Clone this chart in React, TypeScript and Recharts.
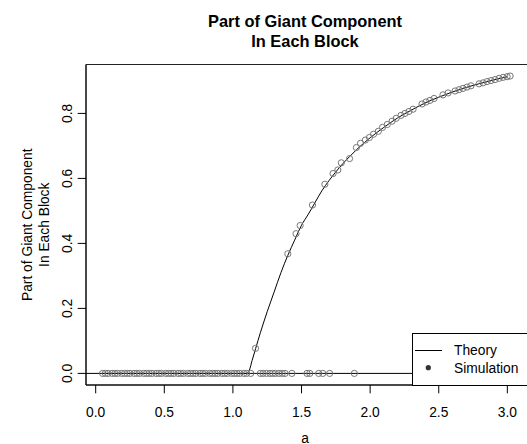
import React from 'react';
import {
  ComposedChart,
  Line,
  Scatter,
  XAxis,
  YAxis,
  ReferenceArea,
  ReferenceLine,
  Legend,
  Label,
} from 'recharts';

// ---------- data ----------
const theoryA = [0.05, 1.1, 1.12, 1.14, 1.166, 1.2, 1.25, 1.3, 1.35, 1.4, 1.45, 1.5, 1.55, 1.6, 1.65, 1.7, 1.75, 1.8, 1.85, 1.9, 1.95, 2.0, 2.1, 2.2, 2.3, 2.4, 2.5, 2.6, 2.7, 2.8, 2.9, 3.0];
const theoryY = [0, 0, 0.01, 0.04, 0.077, 0.125, 0.19, 0.25, 0.31, 0.363, 0.41, 0.456, 0.49, 0.527, 0.563, 0.593, 0.62, 0.645, 0.667, 0.688, 0.707, 0.725, 0.757, 0.786, 0.81, 0.832, 0.85, 0.866, 0.88, 0.892, 0.903, 0.913];

// simulation runs where no giant component appeared (value 0)
const simZeroA = [0.05, 0.07, 0.09, 0.12, 0.14, 0.16, 0.19, 0.21, 0.23, 0.25, 0.28, 0.3, 0.32, 0.35, 0.37, 0.39, 0.41, 0.44, 0.46, 0.48, 0.51, 0.53, 0.55, 0.57, 0.6, 0.62, 0.64, 0.67, 0.69, 0.71, 0.73, 0.76, 0.78, 0.8, 0.83, 0.85, 0.87, 0.89, 0.92, 0.94, 0.96, 0.99, 1.01, 1.03, 1.05, 1.08, 1.1, 1.13, 1.2, 1.22, 1.245, 1.27, 1.29, 1.31, 1.335, 1.36, 1.38, 1.43, 1.54, 1.56, 1.625, 1.655, 1.705, 1.885];

// simulation runs on the giant-component branch
const simCurveA = [1.165, 1.4, 1.46, 1.49, 1.58, 1.67, 1.73, 1.765, 1.79, 1.85, 1.9, 1.93, 1.965, 1.995, 2.025, 2.06, 2.09, 2.125, 2.16, 2.19, 2.225, 2.254, 2.283, 2.313, 2.378, 2.407, 2.436, 2.466, 2.531, 2.568, 2.619, 2.648, 2.677, 2.706, 2.735, 2.794, 2.823, 2.852, 2.881, 2.91, 2.94, 2.969, 2.998, 3.02];
const simCurveY = [0.077, 0.368, 0.43, 0.455, 0.518, 0.582, 0.615, 0.626, 0.648, 0.661, 0.695, 0.708, 0.718, 0.726, 0.736, 0.745, 0.757, 0.766, 0.776, 0.785, 0.794, 0.8, 0.806, 0.813, 0.829, 0.835, 0.84, 0.846, 0.857, 0.863, 0.869, 0.873, 0.877, 0.881, 0.885, 0.891, 0.894, 0.898, 0.901, 0.904, 0.908, 0.911, 0.913, 0.915];

const xTicks = [0, 0.5, 1.0, 1.5, 2.0, 2.5, 3.0];
const yTicks = [0, 0.2, 0.4, 0.6, 0.8];
const titleLines = ['Part of Giant Component', 'In Each Block'];
const yLabelLines = ['Part of Giant Component', 'In Each Block'];
const xLabel = 'a';
const seriesNames = ['Theory', 'Simulation'];

const theory = theoryA.map((a, i) => ({ a, y: theoryY[i] }));
const simulation = [
  ...simZeroA.map((a) => ({ a, y: 0 })),
  ...simCurveA.map((a, i) => ({ a, y: simCurveY[i] })),
];

// ---------- layout ----------
const FONT = '"Liberation Sans", Arial, Helvetica, sans-serif';
const FS = 13.8;
const X_DOMAIN: [number, number] = [-0.0707, 3.238];
const Y_DOMAIN: [number, number] = [-0.0357, 0.9505];

const XTick = (p: any) => (
  <text x={p.x} y={p.y} dy={9.9} textAnchor="middle" fontSize={FS} fontFamily={FONT} fill="#000">
    {Number(p.payload.value).toFixed(1)}
  </text>
);

const YTick = (p: any) => (
  <text
    x={p.x}
    y={p.y}
    textAnchor="middle"
    fontSize={FS}
    fontFamily={FONT}
    fill="#000"
    transform={`rotate(-90, ${p.x}, ${p.y})`}
  >
    {Number(p.payload.value).toFixed(1)}
  </text>
);

const Circle = (p: any) => (
  <circle cx={p.cx} cy={p.cy} r={3.1} fill="none" stroke="#777" strokeWidth={1} />
);

const renderLegend = () => (
  <svg width={130} height={53} style={{ display: 'block' }}>
    <rect x={0.5} y={0.5} width={140} height={52} fill="#fff" stroke="#000" strokeWidth={1} />
    <line x1={3} x2={30} y1={17.5} y2={17.5} stroke="#000" strokeWidth={1} />
    <text x={42} y={22} fontSize={FS} fontFamily={FONT} fill="#000">{seriesNames[0]}</text>
    <circle cx={16.3} cy={34.7} r={2.6} fill="#333" />
    <text x={42} y={40.2} fontSize={FS} fontFamily={FONT} fill="#000">{seriesNames[1]}</text>
  </svg>
);

export default function App() {
  return (
    <div style={{ position: 'absolute', left: 0, top: 0, width: 527, height: 444, overflow: 'hidden', background: '#fff' }}>
      <ComposedChart
        width={540}
        height={444}
        margin={{ top: 64.5, right: 0, bottom: 0, left: 0 }}
        style={{ fontFamily: FONT }}
      >
        <XAxis
          dataKey="a"
          type="number"
          domain={X_DOMAIN}
          allowDataOverflow
          ticks={xTicks}
          interval={0}
          height={59}
          tickSize={8.3}
          tickMargin={13.3}
          tick={XTick}
          axisLine={{ stroke: '#000' }}
          tickLine={{ stroke: '#000' }}
        >
          <Label
            content={() => (
              <g>
                <text x={305} y={442.5} textAnchor="middle" fontSize={FS} fontFamily={FONT} fill="#000">{xLabel}</text>
                <text x={305} y={26.5} textAnchor="middle" fontSize={16.4} fontWeight="bold" fontFamily={FONT} fill="#000">{titleLines[0]}</text>
                <text x={305} y={47} textAnchor="middle" fontSize={16.4} fontWeight="bold" fontFamily={FONT} fill="#000">{titleLines[1]}</text>
              </g>
            )}
          />
        </XAxis>
        <YAxis
          dataKey="y"
          type="number"
          domain={Y_DOMAIN}
          allowDataOverflow
          ticks={yTicks}
          interval={0}
          width={86}
          tickSize={8.3}
          tickMargin={5.7}
          tick={YTick}
          axisLine={{ stroke: '#000' }}
          tickLine={{ stroke: '#000' }}
        >
          <Label
            content={() => (
              <g>
                <text x={32} y={224.75} textAnchor="middle" fontSize={FS} fontFamily={FONT} fill="#000" transform="rotate(-90, 32, 224.75)">{yLabelLines[0]}</text>
                <text x={48.5} y={224.75} textAnchor="middle" fontSize={FS} fontFamily={FONT} fill="#000" transform="rotate(-90, 48.5, 224.75)">{yLabelLines[1]}</text>
              </g>
            )}
          />
        </YAxis>
        <ReferenceArea
          x1={X_DOMAIN[0]}
          x2={X_DOMAIN[1]}
          y1={Y_DOMAIN[0]}
          y2={Y_DOMAIN[1]}
          fill="none"
          stroke="#222"
          strokeWidth={1}
          ifOverflow="visible"
        />
        <ReferenceLine y={0} stroke="#000" strokeWidth={1} />
        <Scatter name={seriesNames[1]} data={simulation} dataKey="y" shape={Circle} isAnimationActive={false} />
        <Line
          name={seriesNames[0]}
          data={theory}
          dataKey="y"
          type="monotone"
          stroke="#000"
          strokeWidth={1}
          dot={false}
          activeDot={false}
          isAnimationActive={false}
        />
        <Legend
          layout="vertical"
          align="center"
          verticalAlign="middle"
          content={renderLegend}
          wrapperStyle={{ left: 412, top: 333, width: 130, height: 53 }}
        />
      </ComposedChart>
    </div>
  );
}
